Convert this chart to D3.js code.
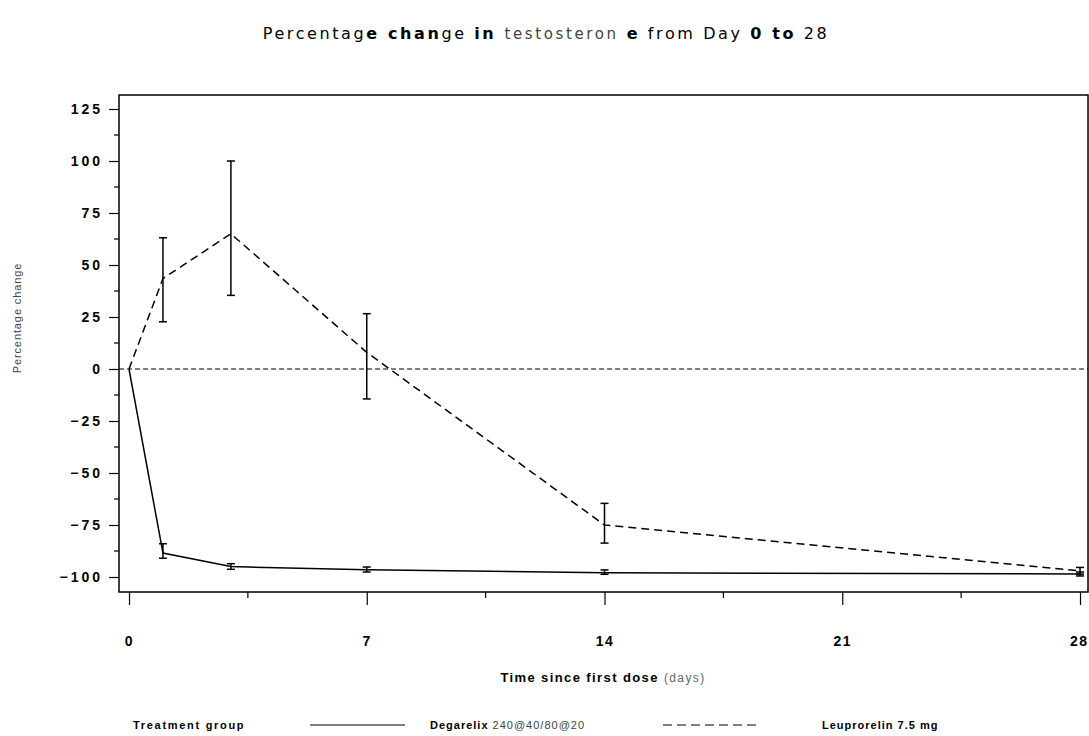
<!DOCTYPE html>
<html>
<head>
<meta charset="utf-8">
<script src="https://cdn.jsdelivr.net/npm/d3@7"></script>
<style>
  body { margin: 0; background: #fff; }
  svg { display: block; font-family: 'Liberation Sans', Arial, sans-serif; }
  .tick text { font-size: 14px; font-weight: bold; fill: #000; letter-spacing: 3px; }
  .axisX .tick text { letter-spacing: 1.5px; }
</style>
</head>
<body>
<svg width="1089" height="736"></svg>
<script>
'use strict';

// days of measurement
var days = [0, 1, 3, 7, 14, 28];

// Degarelix 240@40/80@20 : mean and error bar ends (percent change)
var degaMean = [0, -88.5, -95, -96.5, -98, -98.5];
var degaLow = [null, -91, -96.3, -97.6, -98.7, -99.5];
var degaHigh = [null, -84, -93.6, -95.2, -96.6, -97.6];

// Leuprorelin 7.5 mg
var leupMean = [0, 43.5, 65, 8, -75, -97];
var leupLow = [null, 22.7, 35.4, -14.4, -83.7, -98.6];
var leupHigh = [null, 63.1, 100, 26.6, -64.6, -95.4];

var yTicks = [-100, -75, -50, -25, 0, 25, 50, 75, 100, 125];
var xTicks = [0, 7, 14, 21, 28];

var svg = d3.select('svg');

var FRAME = { left: 119, right: 1088, top: 95, bottom: 592 };

var x = d3.scaleLinear().domain([0, 28]).range([129, 1080]);
var y = d3.scaleLinear().domain([0, 125]).range([369, 109]);

// title, drawn in pieces because the weights change inside it
var titleParts = [
    ['Percentag', 'normal'], ['e chan', 'bold'], ['ge ', 'normal'], [' in ', 'bold'],
    ['testosteron', 'lighter'], [' e', 'bold'], [' from  Day ', 'normal'],
    ['0 to', 'bold'], [' 28', 'normal']
];
var title = svg.append('text')
    .attr('x', 546)
    .attr('y', 39)
    .attr('text-anchor', 'middle')
    .style('font-size', '16px')
    .style('letter-spacing', '2.6px')
    .style('font-family', "'DejaVu Sans', sans-serif");
titleParts.forEach(function(p) {
    title.append('tspan')
        .attr('font-weight', p[1] === 'bold' ? 'bold' : 'normal')
        .attr('fill', p[1] === 'lighter' ? '#444' : '#000')
        .style('font-size', p[1] === 'lighter' ? '15px' : '16px')
        .text(p[0]);
});

// frame
svg.append('rect')
    .attr('x', FRAME.left)
    .attr('y', FRAME.top)
    .attr('width', FRAME.right - FRAME.left)
    .attr('height', FRAME.bottom - FRAME.top)
    .attr('fill', 'none')
    .attr('stroke', '#000')
    .attr('stroke-width', 1.5);

// y axis with minor ticks
var axisY = d3.axisLeft(y)
    .tickValues(yTicks)
    .tickFormat(function(d) { return d < 0 ? '\u2212' + Math.abs(d) : d; })
    .tickSize(10)
    .tickPadding(6)
    .tickSizeOuter(0);
var gy = svg.append('g')
    .attr('transform', 'translate(' + FRAME.left + ',0)')
    .call(axisY);
gy.select('.domain').remove();
gy.selectAll('.tick line').attr('stroke-width', 1.2);

var yMinor = d3.range(-87.5, 125, 25);
svg.append('g').selectAll('line')
    .data(yMinor)
    .enter()
    .append('line')
    .attr('x1', FRAME.left - 5)
    .attr('x2', FRAME.left)
    .attr('y1', function(d) { return y(d); })
    .attr('y2', function(d) { return y(d); })
    .attr('stroke', '#000')
    .attr('stroke-width', 1.2);

// x axis sits under the frame
var axisX = d3.axisBottom(x)
    .tickValues(xTicks)
    .tickSize(13)
    .tickPadding(31)
    .tickSizeOuter(0);
var gx = svg.append('g')
    .attr('class', 'axisX')
    .attr('transform', 'translate(0,' + FRAME.bottom + ')')
    .call(axisX);
gx.select('.domain').remove();
gx.selectAll('.tick line').attr('stroke-width', 1.2);
// last label would run off the page edge
gx.selectAll('.tick text')
    .filter(function(d) { return d === 28; })
    .attr('text-anchor', 'end')
    .attr('dx', '8px');

svg.append('g').selectAll('line')
    .data([3.5, 10.5, 17.5, 24.5])
    .enter()
    .append('line')
    .attr('x1', function(d) { return x(d); })
    .attr('x2', function(d) { return x(d); })
    .attr('y1', FRAME.bottom)
    .attr('y2', FRAME.bottom + 6)
    .attr('stroke', '#000')
    .attr('stroke-width', 1.2);

// axis titles
svg.append('text')
    .attr('transform', 'translate(21,318) rotate(-90)')
    .attr('text-anchor', 'middle')
    .style('font-size', '11px')
    .style('letter-spacing', '0.9px')
    .attr('fill', '#444')
    .text('Percentage change');

var xTitle = svg.append('text')
    .attr('x', 603)
    .attr('y', 682)
    .attr('text-anchor', 'middle')
    .style('font-size', '13px')
    .style('letter-spacing', '1.4px');
xTitle.append('tspan').attr('font-weight', 'bold').text('Time since first dose ');
xTitle.append('tspan').attr('fill', '#666').style('font-size', '12px').text('(days)');

// zero reference line
svg.append('line')
    .attr('x1', FRAME.left)
    .attr('x2', FRAME.right)
    .attr('y1', y(0))
    .attr('y2', y(0))
    .attr('stroke', '#000')
    .attr('stroke-width', 1.2)
    .attr('stroke-dasharray', '5,3');

function drawSeries(mean, low, high, dash) {
    var pts = days.map(function(d, i) {
        return { day: d, mean: mean[i], low: low[i], high: high[i] };
    });
    var line = d3.line()
        .x(function(d) { return x(d.day); })
        .y(function(d) { return y(d.mean); });

    svg.append('path')
        .datum(pts)
        .attr('d', line)
        .attr('fill', 'none')
        .attr('stroke', '#000')
        .attr('stroke-width', 1.5)
        .attr('stroke-dasharray', dash);

    var bars = svg.append('g').selectAll('g')
        .data(pts.filter(function(d) { return d.low !== null; }))
        .enter()
        .append('g')
        .attr('stroke', '#000')
        .attr('stroke-width', 1.5);

    bars.append('line')
        .attr('x1', function(d) { return x(d.day); })
        .attr('x2', function(d) { return x(d.day); })
        .attr('y1', function(d) { return y(d.low); })
        .attr('y2', function(d) { return y(d.high); });
    bars.append('line')
        .attr('x1', function(d) { return x(d.day) - 4; })
        .attr('x2', function(d) { return x(d.day) + 4; })
        .attr('y1', function(d) { return y(d.low); })
        .attr('y2', function(d) { return y(d.low); });
    bars.append('line')
        .attr('x1', function(d) { return x(d.day) - 4; })
        .attr('x2', function(d) { return x(d.day) + 4; })
        .attr('y1', function(d) { return y(d.high); })
        .attr('y2', function(d) { return y(d.high); });
}

drawSeries(leupMean, leupLow, leupHigh, '8,5');
drawSeries(degaMean, degaLow, degaHigh, null);

// legend
var legY = 725;
svg.append('text')
    .attr('x', 133)
    .attr('y', legY + 4)
    .attr('font-weight', 'bold')
    .style('font-size', '11px')
    .style('letter-spacing', '1.7px')
    .text('Treatment group');

svg.append('line')
    .attr('x1', 310).attr('x2', 405)
    .attr('y1', legY).attr('y2', legY)
    .attr('stroke', '#000').attr('stroke-width', 1.2);

var leg1 = svg.append('text')
    .attr('x', 430)
    .attr('y', legY + 4)
    .style('font-size', '11px')
    .style('letter-spacing', '1px');
leg1.append('tspan').attr('font-weight', 'bold').text('Degarelix ');
leg1.append('tspan').attr('fill', '#444').text('240@40/80@20');

svg.append('line')
    .attr('x1', 663).attr('x2', 757)
    .attr('y1', legY).attr('y2', legY)
    .attr('stroke', '#000').attr('stroke-width', 1.2)
    .attr('stroke-dasharray', '9,5');

svg.append('text')
    .attr('x', 822)
    .attr('y', legY + 4)
    .attr('font-weight', 'bold')
    .style('font-size', '11px')
    .style('letter-spacing', '1px')
    .text('Leuprorelin 7.5 mg');
</script>
</body>
</html>
